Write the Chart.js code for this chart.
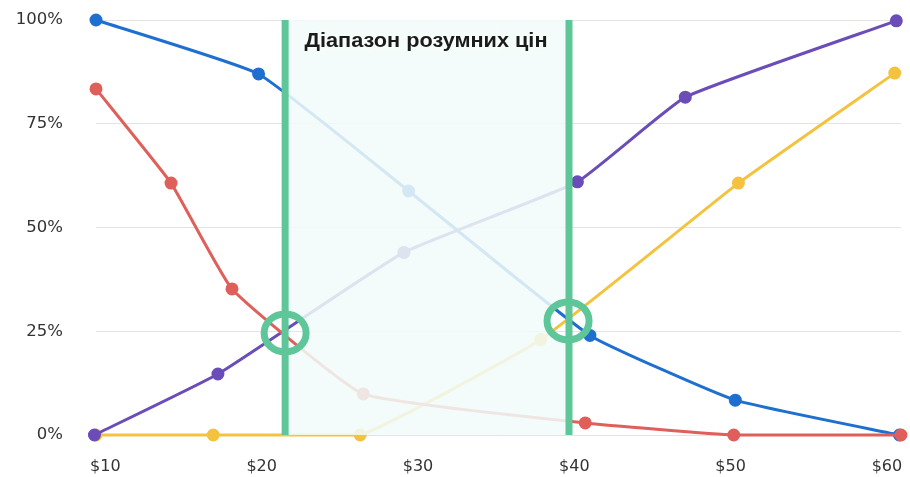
<!DOCTYPE html>
<html>
<head>
<meta charset="utf-8">
<script src="https://cdn.jsdelivr.net/npm/chart.js@4/dist/chart.umd.min.js"></script>
<style>
  html, body { margin: 0; padding: 0; background: #fff; }
  #wrap { width: 910px; height: 477px; position: relative; }
</style>
</head>
<body>
<div id="wrap"><canvas id="chart"></canvas></div>
<script>
// ціни (x) та частки респондентів (y, %)
const tooCheapX = [9.4, 14.2, 18.1, 26.5, 40.7, 50.2, 60.9];
const tooCheapY = [83.4, 60.7, 35.2, 9.9, 2.9, 0, 0];
const cheapX = [9.4, 19.8, 29.4, 41.0, 50.3, 60.8];
const cheapY = [100, 87, 58.8, 24, 8.4, 0];
const expensiveX = [9.3, 17.2, 29.1, 40.2, 47.1, 60.6];
const expensiveY = [0, 14.7, 44, 61, 81.4, 99.8];
const tooExpensiveX = [9.4, 16.9, 26.3, 37.85, 50.5, 60.5];
const tooExpensiveY = [0, 0, 0, 23, 60.7, 87.2];

const xTicks = [10, 20, 30, 40, 50, 60];
const yTicks = [0, 25, 50, 75, 100];

// діапазон розумних цін та точки перетину
const rangeLabel = 'Діапазон розумних цін';
const rangeFrom = 21.5;
const rangeTo = 39.66;
const crossPoints = [{ x: 21.5, y: 24.6 }, { x: 39.6, y: 27.5 }];

function pts(xs, ys) {
  return xs.map((x, i) => ({ x: x, y: ys[i] }));
}

function series(label, xs, ys, color) {
  return {
    label: label,
    data: pts(xs, ys),
    borderColor: color,
    backgroundColor: color,
    borderWidth: 3,
    pointRadius: 5,
    pointHoverRadius: 5,
    tension: 0.12,
    clip: false
  };
}

const green = 'rgb(94,198,152)';

// смуга діапазону, поверх ліній (крім кіл)
const rangePlugin = {
  id: 'rangeBand',
  afterDatasetsDraw(chart) {
    const ctx = chart.ctx;
    const xs = chart.scales.x, ys = chart.scales.y;
    const a = chart.chartArea;
    const x1 = xs.getPixelForValue(rangeFrom);
    const x2 = xs.getPixelForValue(rangeTo);
    const rx = 21, ry = 19;

    ctx.save();
    ctx.beginPath();
    ctx.rect(x1, a.top, x2 - x1, a.bottom - a.top);
    ctx.clip();
    ctx.beginPath();
    ctx.rect(x1, a.top, x2 - x1, a.bottom - a.top);
    crossPoints.forEach(p => {
      const cx = xs.getPixelForValue(p.x), cy = ys.getPixelForValue(p.y);
      ctx.moveTo(cx + rx, cy);
      ctx.ellipse(cx, cy, rx, ry, 0, 0, Math.PI * 2);
    });
    ctx.fillStyle = 'rgba(241,252,249,0.86)';
    ctx.fill('evenodd');
    ctx.restore();

    // підпис
    ctx.save();
    ctx.font = 'bold 20px "Liberation Sans", Arial, sans-serif';
    ctx.textAlign = 'center';
    ctx.textBaseline = 'middle';
    const w = ctx.measureText(rangeLabel).width;
    ctx.translate(426, 41);
    ctx.scale(243 / w, 1);
    ctx.shadowColor = 'rgba(255,255,255,0.9)';
    ctx.shadowBlur = 14;
    ctx.fillStyle = '#1b1b1b';
    ctx.fillText(rangeLabel, 0, 0);
    ctx.restore();

    // вертикальні межі
    ctx.save();
    ctx.strokeStyle = green;
    ctx.lineWidth = 7;
    [x1, x2].forEach(x => {
      ctx.beginPath();
      ctx.moveTo(x, a.top);
      ctx.lineTo(x, a.bottom);
      ctx.stroke();
    });
    // кола перетину
    ctx.lineWidth = 7;
    crossPoints.forEach(p => {
      ctx.beginPath();
      ctx.ellipse(xs.getPixelForValue(p.x), ys.getPixelForValue(p.y), rx, ry, 0, 0, Math.PI * 2);
      ctx.stroke();
    });
    ctx.restore();
  }
};

function noPad(s) {
  s.paddingTop = 0;
  s.paddingBottom = 0;
  s.paddingLeft = 0;
  s.paddingRight = 0;
}

new Chart(document.getElementById('chart'), {
  type: 'line',
  data: {
    datasets: [
      series('Занадто дешево', tooCheapX, tooCheapY, '#df5f5a'),
      series('Дешево', cheapX, cheapY, '#1f6fd0'),
      series('Дорого', expensiveX, expensiveY, '#6a4db8'),
      series('Занадто дорого', tooExpensiveX, tooExpensiveY, '#f3c340')
    ]
  },
  options: {
    responsive: true,
    maintainAspectRatio: false,
    animation: false,
    layout: { padding: { top: 20, right: 9, bottom: 0, left: 0 } },
    plugins: {
      legend: { display: false },
      tooltip: { enabled: false }
    },
    scales: {
      x: {
        type: 'linear',
        min: 9.4,
        max: 60.9,
        afterBuildTicks: s => { s.ticks = xTicks.map(v => ({ value: v })); },
        afterFit: s => { s.height = 42; noPad(s); },
        border: { display: false },
        grid: { display: false, drawTicks: false },
        ticks: {
          padding: 22,
          color: '#333',
          font: { family: 'DejaVu Sans', size: 16 },
          callback: v => '$' + v
        }
      },
      y: {
        min: 0,
        max: 100,
        afterBuildTicks: s => { s.ticks = yTicks.map(v => ({ value: v })); },
        afterFit: s => { s.width = 96; noPad(s); },
        border: { display: false },
        grid: { color: '#e4e4e4', lineWidth: 1, drawTicks: false },
        ticks: {
          padding: 33,
          color: '#333',
          font: { family: 'DejaVu Sans', size: 16.5 },
          callback: v => v + '%'
        }
      }
    }
  },
  plugins: [rangePlugin]
});
</script>
</body>
</html>
